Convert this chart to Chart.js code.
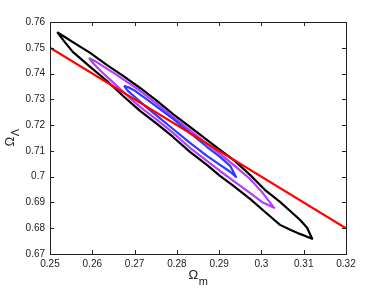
<!DOCTYPE html>
<html><head><meta charset="utf-8">
<style>html,body{margin:0;padding:0;background:#fff;}canvas{display:block;}</style>
<script src="https://cdn.jsdelivr.net/npm/chart.js@4.4.1/dist/chart.umd.min.js"></script>
</head><body>
<canvas id="c" width="382" height="288"></canvas>
<script>
// ---- data ----
const xTickValues = [0.25, 0.26, 0.27, 0.28, 0.29, 0.30, 0.31, 0.32];
const xTickLabels = ['0.25', '0.26', '0.27', '0.28', '0.29', '0.3', '0.31', '0.32'];
const yTickValues = [0.67, 0.68, 0.69, 0.70, 0.71, 0.72, 0.73, 0.74, 0.75, 0.76];
const yTickLabels = ['0.67', '0.68', '0.69', '0.7', '0.71', '0.72', '0.73', '0.74', '0.75', '0.76'];

// outer (black) confidence contour: [Omega_m, Omega_Lambda]
const blackContour = [
  [0.2517,0.7561],[0.2535,0.7542],[0.2554,0.7522],[0.2595,0.7480],[0.2635,0.7433],
  [0.2673,0.7391],[0.2713,0.7344],[0.2753,0.7294],[0.2791,0.7243],[0.2831,0.7193],
  [0.2871,0.7143],[0.2902,0.7104],[0.2937,0.7061],[0.2973,0.7007],[0.3008,0.6949],
  [0.3044,0.6902],[0.3068,0.6867],[0.3091,0.6833],[0.3108,0.6802],[0.3120,0.6759],
  [0.3108,0.6767],[0.3091,0.6778],[0.3068,0.6794],[0.3044,0.6813],[0.3008,0.6864],
  [0.2973,0.6914],[0.2937,0.6960],[0.2902,0.7003],[0.2871,0.7046],[0.2831,0.7096],
  [0.2791,0.7154],[0.2753,0.7205],[0.2713,0.7255],[0.2673,0.7313],[0.2635,0.7371],
  [0.2595,0.7426],[0.2554,0.7484],[0.2535,0.7522],[0.2517,0.7561]
];
// middle (magenta) contour
const magentaContour = [
  [0.2592,0.7460],[0.2606,0.7449],[0.2625,0.7429],[0.2658,0.7395],[0.2689,0.7360],
  [0.2713,0.7333],[0.2753,0.7282],[0.2791,0.7232],[0.2831,0.7181],[0.2871,0.7127],
  [0.2902,0.7088],[0.2937,0.7042],[0.2973,0.6991],[0.3001,0.6941],[0.3030,0.6879],
  [0.3001,0.6902],[0.2973,0.6937],[0.2937,0.6980],[0.2902,0.7022],[0.2871,0.7061],
  [0.2831,0.7112],[0.2791,0.7170],[0.2753,0.7220],[0.2713,0.7271],[0.2689,0.7305],
  [0.2658,0.7352],[0.2625,0.7402],[0.2606,0.7433],[0.2592,0.7460]
];
// inner (blue) contour
const blueContour = [
  [0.2675,0.7352],[0.2684,0.7348],[0.2701,0.7333],[0.2725,0.7305],[0.2753,0.7271],
  [0.2791,0.7224],[0.2831,0.7170],[0.2871,0.7116],[0.2902,0.7077],[0.2926,0.7042],
  [0.2940,0.6999],
  [0.2926,0.7019],[0.2902,0.7046],[0.2871,0.7081],[0.2831,0.7131],[0.2791,0.7185],
  [0.2753,0.7236],[0.2725,0.7274],[0.2701,0.7309],[0.2684,0.7333],[0.2675,0.7352]
];
// red constraint line
const redLine = [[0.25,0.75],[0.32,0.68]];

const xTitle = ['Ω', 'm'];
const yTitle = ['Ω', 'Λ'];

// ---- chart ----
const toPts = arr => arr.map(p => ({x: p[0], y: p[1]}));
const FONT = '"Liberation Sans", Arial, Helvetica, sans-serif';
const TXT = '#222';

const framePlugin = {
  id: 'frame',
  afterDraw(chart) {
    const {ctx, chartArea: a, scales} = chart;
    ctx.save();
    ctx.strokeStyle = '#222';
    ctx.lineWidth = 1;
    ctx.strokeRect(Math.round(a.left) + 0.5, Math.round(a.top) + 0.5,
                   Math.round(a.right - a.left), Math.round(a.bottom - a.top));
    const L = 4;
    ctx.beginPath();
    xTickValues.forEach(v => {
      const px = Math.round(scales.x.getPixelForValue(v)) + 0.5;
      ctx.moveTo(px, a.bottom); ctx.lineTo(px, a.bottom - L);
      ctx.moveTo(px, a.top); ctx.lineTo(px, a.top + L);
    });
    yTickValues.forEach(v => {
      const py = Math.round(scales.y.getPixelForValue(v)) + 0.5;
      ctx.moveTo(a.left, py); ctx.lineTo(a.left + L, py);
      ctx.moveTo(a.right, py); ctx.lineTo(a.right - L, py);
    });
    ctx.stroke();

    // axis titles with subscripts
    ctx.fillStyle = TXT;
    ctx.textBaseline = 'alphabetic';
    ctx.textAlign = 'left';
    const bigF = '13px ' + FONT, smallF = '11px ' + FONT;
    ctx.font = bigF; const w1 = ctx.measureText(xTitle[0]).width;
    ctx.font = smallF; const w2 = ctx.measureText(xTitle[1]).width;
    const cx = (a.left + a.right) / 2;
    let x0 = cx - (w1 + w2) / 2;
    ctx.font = bigF; ctx.fillText(xTitle[0], x0, a.bottom + 25);
    ctx.font = smallF; ctx.fillText(xTitle[1], x0 + w1 + 0.5, a.bottom + 31);

    ctx.font = bigF; const v1 = ctx.measureText(yTitle[0]).width;
    ctx.font = smallF; const v2 = ctx.measureText(yTitle[1]).width;
    const cy = (a.top + a.bottom) / 2;
    ctx.translate(a.left - 36, cy + (v1 + v2) / 2);
    ctx.rotate(-Math.PI / 2);
    ctx.font = bigF; ctx.fillText(yTitle[0], 0, 0);
    ctx.font = smallF; ctx.fillText(yTitle[1], v1 + 0.5, 5);
    ctx.restore();
  }
};

new Chart(document.getElementById('c'), {
  type: 'scatter',
  data: {
    datasets: [
      {data: toPts(redLine), borderColor: '#ff0000', borderWidth: 2.2},
      {data: toPts(blueContour), borderColor: '#2b3cff', borderWidth: 2.2},
      {data: toPts(magentaContour), borderColor: '#b43cff', borderWidth: 2.2},
      {data: toPts(blackContour), borderColor: '#000000', borderWidth: 2.2}
    ].map(d => Object.assign(d, {showLine: true, pointRadius: 0, fill: false, tension: 0, borderJoinStyle: 'round'}))
  },
  options: {
    responsive: false,
    animation: false,
    events: [],
    layout: {padding: {left: 0, top: 22, right: 36, bottom: 0}},
    plugins: {legend: {display: false}, tooltip: {enabled: false}},
    scales: {
      x: {
        type: 'linear', min: 0.25, max: 0.32,
        afterBuildTicks: s => { s.ticks = xTickValues.map(v => ({value: v})); },
        afterFit: s => { s.height = 34; },
        grid: {display: false, drawTicks: false},
        border: {display: false},
        ticks: {
          padding: 4, color: TXT, font: {family: FONT, size: 10},
          maxRotation: 0, autoSkip: false,
          callback: (v, i) => xTickLabels[i]
        }
      },
      y: {
        type: 'linear', min: 0.67, max: 0.76,
        afterBuildTicks: s => { s.ticks = yTickValues.map(v => ({value: v})); },
        afterFit: s => { s.width = 50; },
        grid: {display: false, drawTicks: false},
        border: {display: false},
        ticks: {
          padding: 5, color: TXT, font: {family: FONT, size: 10},
          autoSkip: false,
          callback: (v, i) => yTickLabels[i]
        }
      }
    }
  },
  plugins: [framePlugin]
});
</script>
</body></html>
